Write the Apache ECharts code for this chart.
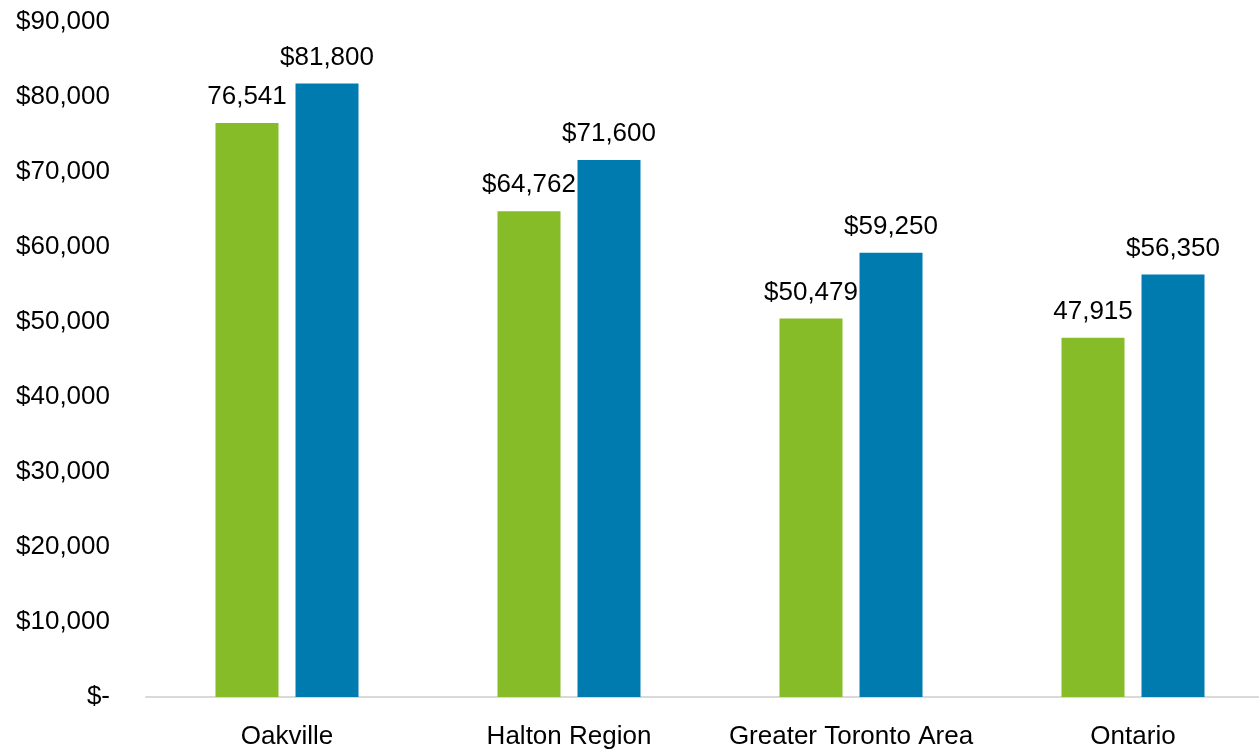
<!DOCTYPE html>
<html>
<head>
<meta charset="utf-8">
<script src="https://cdn.jsdelivr.net/npm/echarts@6/dist/echarts.min.js"></script>
<style>
html,body{margin:0;padding:0;background:#fff;}
#chart{width:1259px;height:754px;}
</style>
</head>
<body>
<div id="chart"></div>
<script>
var categories = ['Oakville', 'Halton Region', 'Greater Toronto Area', 'Ontario'];
var greenValues = [76541, 64762, 50479, 47915];
var blueValues = [81800, 71600, 59250, 56350];
var greenLabels = ['76,541', '$64,762', '$50,479', '47,915'];
var blueLabels = ['$81,800', '$71,600', '$59,250', '$56,350'];
var yTickLabels = ['$-', '$10,000', '$20,000', '$30,000', '$40,000', '$50,000', '$60,000', '$70,000', '$80,000', '$90,000'];

var FONT = '"Liberation Sans", Arial, sans-serif';
var FS = 26;
var chart = echarts.init(document.getElementById('chart'), null, {renderer: 'canvas'});
chart.setOption({
  animation: false,
  backgroundColor: '#ffffff',
  grid: {left: 146, width: 1128, top: 22, height: 675, containLabel: false, outerBoundsMode: 'none'},
  xAxis: {
    type: 'category',
    data: categories,
    axisLine: {show: true, lineStyle: {color: '#d9d9d9', width: 2}},
    axisTick: {show: false},
    axisLabel: {fontFamily: FONT, fontSize: FS, color: '#000', margin: 27, interval: 0}
  },
  yAxis: {
    type: 'value',
    min: 0, max: 90000, interval: 10000,
    splitLine: {show: false},
    axisLine: {show: false},
    axisTick: {show: false},
    axisLabel: {
      fontFamily: FONT, fontSize: FS, color: '#000', margin: 36, padding: [5, 0, 0, 0],
      formatter: function (v) { return yTickLabels[Math.round(v / 10000)]; }
    }
  },
  series: [
    {
      name: 'Series 1', type: 'bar', data: greenValues,
      barWidth: 63, barGap: '27%',
      itemStyle: {color: '#86bc28'},
      label: {show: true, position: 'top', distance: 13, fontFamily: FONT, fontSize: FS, color: '#000',
        formatter: function (p) { return greenLabels[p.dataIndex]; }}
    },
    {
      name: 'Series 2', type: 'bar', data: blueValues,
      barWidth: 63,
      itemStyle: {color: '#007bb0'},
      label: {show: true, position: 'top', distance: 13, fontFamily: FONT, fontSize: FS, color: '#000',
        formatter: function (p) { return blueLabels[p.dataIndex]; }}
    }
  ]
});
</script>
</body>
</html>
